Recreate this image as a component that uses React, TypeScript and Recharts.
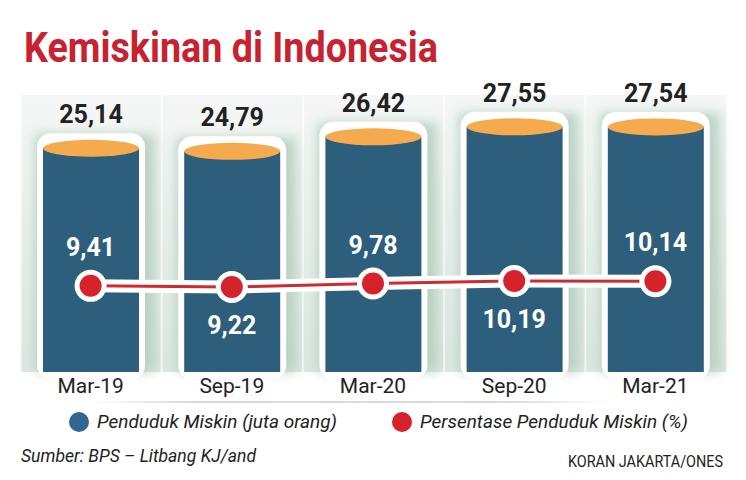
import React from "react"
import {
  ComposedChart,
  Bar,
  Line,
  XAxis,
  YAxis,
  LabelList,
  Customized,
} from "recharts"

const periods = ["Mar-19", "Sep-19", "Mar-20", "Sep-20", "Mar-21"]
const pendudukMiskin = [25.14, 24.79, 26.42, 27.55, 27.54]
const persentaseMiskin = [9.41, 9.22, 9.78, 10.19, 10.14]

const data = periods.map((period, i) => ({
  period,
  jumlah: pendudukMiskin[i],
  persen: persentaseMiskin[i],
}))

const BLUE = "#2d5f7d"
const ORANGE = "#f6aa4e"
const RED = "#d6232b"
const TITLE_RED = "#c8212f"
const INK = "#222222"
const FONT = "Roboto, 'Noto Sans', sans-serif"

const fmt = (v: number) => v.toFixed(2).replace(".", ",")

// eslint-disable-next-line @typescript-eslint/no-explicit-any
const PanelBackground = (props: any) => {
  const { x, y, width, height, index } = props
  const extra = 22.5
  return (
    <g>
      {index === 0 && (
        <defs>
          <linearGradient id="panelGrad" x1="0" y1="0" x2="0" y2="1">
            <stop offset="0%" stopColor="#f5f7f6" />
            <stop offset="100%" stopColor="#dae7df" />
          </linearGradient>
          <filter id="glow" x="-30%" y="-30%" width="160%" height="160%">
            <feGaussianBlur stdDeviation="6" />
          </filter>
        </defs>
      )}
      <rect
        x={x - extra}
        y={y - 10}
        width={width + extra * 2}
        height={height + 10}
        fill="url(#panelGrad)"
      />
      <line
        x1={x - extra}
        x2={x - extra}
        y1={y - 10}
        y2={y + height}
        stroke="#ffffff"
        strokeOpacity={0.7}
        strokeWidth={2}
      />
    </g>
  )
}

// eslint-disable-next-line @typescript-eslint/no-explicit-any
const Cylinder = (props: any) => {
  const { x, y, width, height } = props
  const bottom = y + height
  return (
    <g>
      <rect
        x={x - 8}
        y={y - 14}
        width={width + 24}
        height={bottom - y + 14}
        fill="#b3cdbd"
        opacity={0.85}
        filter="url(#glow)"
      />
      <rect
        x={x - 6}
        y={y - 15}
        width={width + 12}
        height={bottom - y + 22}
        rx={14}
        fill="#ffffff"
      />
      <rect x={x} y={y} width={width} height={height} fill={BLUE} />
      <ellipse cx={x + width / 2} cy={y} rx={width / 2} ry={8.5} fill={ORANGE} />
    </g>
  )
}

// eslint-disable-next-line @typescript-eslint/no-explicit-any
const TopLabel = (props: any) => {
  const { x, y, width, value } = props
  return (
    <text
      x={x + width / 2}
      y={y - 25}
      textAnchor="middle"
      fontFamily={FONT}
      fontSize={25}
      fontWeight={700}
      fill={INK}
    >
      {fmt(value)}
    </text>
  )
}

// eslint-disable-next-line @typescript-eslint/no-explicit-any
const PctLabel = (props: any) => {
  const { x, y, value, index } = props
  const above = index % 2 === 0
  return (
    <text
      x={x}
      y={above ? y - 30 : y + 47}
      textAnchor="middle"
      fontFamily={FONT}
      fontSize={25}
      fontWeight={700}
      fill="#ffffff"
    >
      {fmt(value)}
    </text>
  )
}

// eslint-disable-next-line @typescript-eslint/no-explicit-any
const Dot = (props: any) => {
  const { cx, cy, index } = props
  return (
    <g key={`dot-${index}`}>
      <circle cx={cx} cy={cy} r={16} fill="#ffffff" />
      <circle cx={cx} cy={cy} r={11} fill={RED} />
    </g>
  )
}

// eslint-disable-next-line @typescript-eslint/no-explicit-any
const PeriodTick = (props: any) => {
  const { x, y, payload } = props
  return (
    <text
      x={x}
      y={y + 13}
      textAnchor="middle"
      fontFamily={FONT}
      fontSize={21}
      fill={INK}
    >
      {payload.value}
    </text>
  )
}

const Overlay = () => (
  <g fontFamily={FONT}>
    <text
      x={24}
      y={62}
      fontSize={42}
      fontWeight={700}
      fill={TITLE_RED}
      textLength={414}
      lengthAdjust="spacingAndGlyphs"
    >
      Kemiskinan di Indonesia
    </text>
    <defs>
      <linearGradient id="shadowLine" x1="0" y1="0" x2="1" y2="0">
        <stop offset="0%" stopColor="#d3dcd7" stopOpacity={0} />
        <stop offset="20%" stopColor="#d3dcd7" stopOpacity={1} />
        <stop offset="80%" stopColor="#d3dcd7" stopOpacity={1} />
        <stop offset="100%" stopColor="#d3dcd7" stopOpacity={0} />
      </linearGradient>
    </defs>
    <rect x={90} y={401} width={520} height={2} fill="url(#shadowLine)" />
    <circle cx={79} cy={422} r={10} fill="#2f6790" />
    <text
      x={97}
      y={428}
      fontSize={19}
      fontStyle="italic"
      fill={INK}
      textLength={240}
      lengthAdjust="spacingAndGlyphs"
    >
      Penduduk Miskin (juta orang)
    </text>
    <circle cx={402} cy={422} r={10} fill={RED} />
    <text
      x={420}
      y={428}
      fontSize={19}
      fontStyle="italic"
      fill={INK}
      textLength={268}
      lengthAdjust="spacingAndGlyphs"
    >
      Persentase Penduduk Miskin (%)
    </text>
    <text
      x={21}
      y={462}
      fontSize={19}
      fontStyle="italic"
      fill={INK}
      textLength={235}
      lengthAdjust="spacingAndGlyphs"
    >
      Sumber: BPS – Litbang KJ/and
    </text>
    <text
      x={568}
      y={467}
      fontSize={16}
      fill={INK}
      textLength={155}
      lengthAdjust="spacingAndGlyphs"
    >
      KORAN JAKARTA/ONES
    </text>
  </g>
)

export default function App() {
  return (
    <div
      style={{
        position: "absolute",
        left: 0,
        top: 0,
        width: 746,
        height: 480,
        background: "#ffffff",
      }}
    >
      <ComposedChart
        width={746}
        height={480}
        data={data}
        margin={{ top: 105, right: 20, bottom: 78, left: 20 }}
      >
        <XAxis
          dataKey="period"
          axisLine={false}
          tickLine={false}
          tick={<PeriodTick />}
          interval={0}
          height={30}
        />
        <YAxis yAxisId="left" hide domain={[0, 30]} />
        <YAxis yAxisId="right" hide domain={[-4.5, 38.6]} />
        <Bar
          yAxisId="left"
          dataKey="jumlah"
          barSize={96}
          background={<PanelBackground />}
          shape={<Cylinder />}
          isAnimationActive={false}
        >
          <LabelList dataKey="jumlah" content={<TopLabel />} />
        </Bar>
        <Line
          yAxisId="right"
          dataKey="persen"
          stroke="#ffffff"
          strokeWidth={13}
          dot={false}
          activeDot={false}
          isAnimationActive={false}
          legendType="none"
        />
        <Line
          yAxisId="right"
          dataKey="persen"
          stroke="#cf2a2f"
          strokeWidth={3}
          dot={<Dot />}
          activeDot={false}
          isAnimationActive={false}
        >
          <LabelList dataKey="persen" content={<PctLabel />} />
        </Line>
        <Customized component={Overlay} />
      </ComposedChart>
    </div>
  )
}
